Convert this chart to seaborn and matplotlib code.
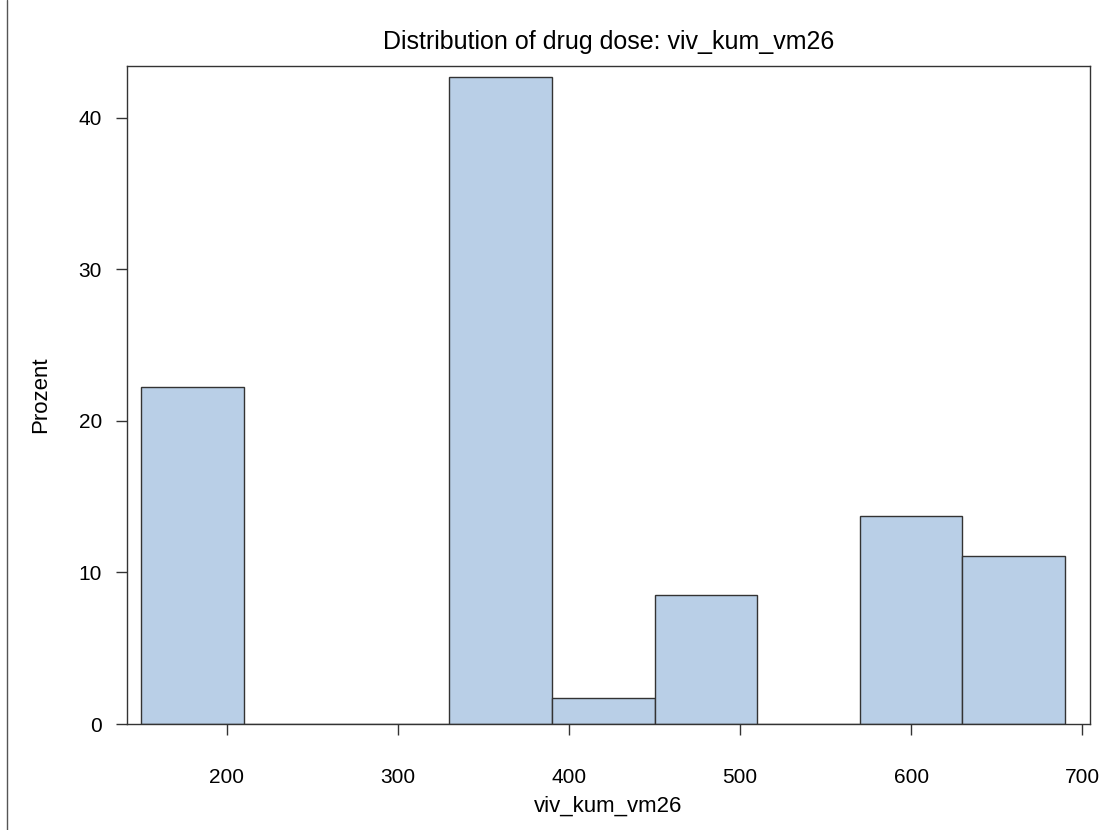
import numpy as np
import matplotlib
matplotlib.use("Agg")
import matplotlib.pyplot as plt
import seaborn as sns
from matplotlib.lines import Line2D

# Dose bins (width 60) and the percentage of patients in each
bin_edges = [150, 210, 270, 330, 390, 450, 510, 570, 630, 690]
percent = [22.2, 0.0, 0.0, 42.7, 1.7, 8.5, 0.0, 13.7, 11.1]
x_ticks = [200, 300, 400, 500, 600, 700]
y_ticks = [0, 10, 20, 30, 40]

bin_mid = [(a + b) / 2 for a, b in zip(bin_edges[:-1], bin_edges[1:])]

sns.set_style("white")
plt.rcParams["font.family"] = ["Liberation Sans", "DejaVu Sans"]
plt.rcParams["text.color"] = "black"
plt.rcParams["axes.labelcolor"] = "black"
plt.rcParams["xtick.color"] = "black"
plt.rcParams["ytick.color"] = "black"

fig = plt.figure(figsize=(11.11, 8.30), dpi=100)
ax = fig.add_axes([0.1143, 0.1277, 0.8667, 0.7928])

sns.histplot(x=bin_mid, weights=percent, bins=bin_edges, stat="count",
             color="#B9CFE7", edgecolor="#333333", linewidth=1.0,
             alpha=1.0, ax=ax)

ax.set_xlim(141.6, 704.5)
ax.set_ylim(0, 43.4)
ax.set_xticks(x_ticks)
ax.set_yticks(y_ticks)
ax.tick_params(axis="both", which="major", bottom=True, left=True,
               direction="out", length=8, width=1, color="#333333",
               labelcolor="black", labelsize=15)
ax.tick_params(axis="x", pad=24)
ax.tick_params(axis="y", pad=10)
for s in ax.spines.values():
    s.set_visible(True)
    s.set_color("#333333")
    s.set_linewidth(1.0)

ax.set_xlabel("viv_kum_vm26", fontsize=16, labelpad=6)
ax.set_ylabel("Prozent", fontsize=16, labelpad=20)
ax.set_title("Distribution of drug dose: viv_kum_vm26", fontsize=18, pad=12)

# left border of the graph area
fig.add_artist(Line2D([7 / 1111, 7 / 1111], [0.0, 1.0], transform=fig.transFigure,
                      color="#555555", linewidth=1.0))

fig.savefig("out.png", dpi=100)
